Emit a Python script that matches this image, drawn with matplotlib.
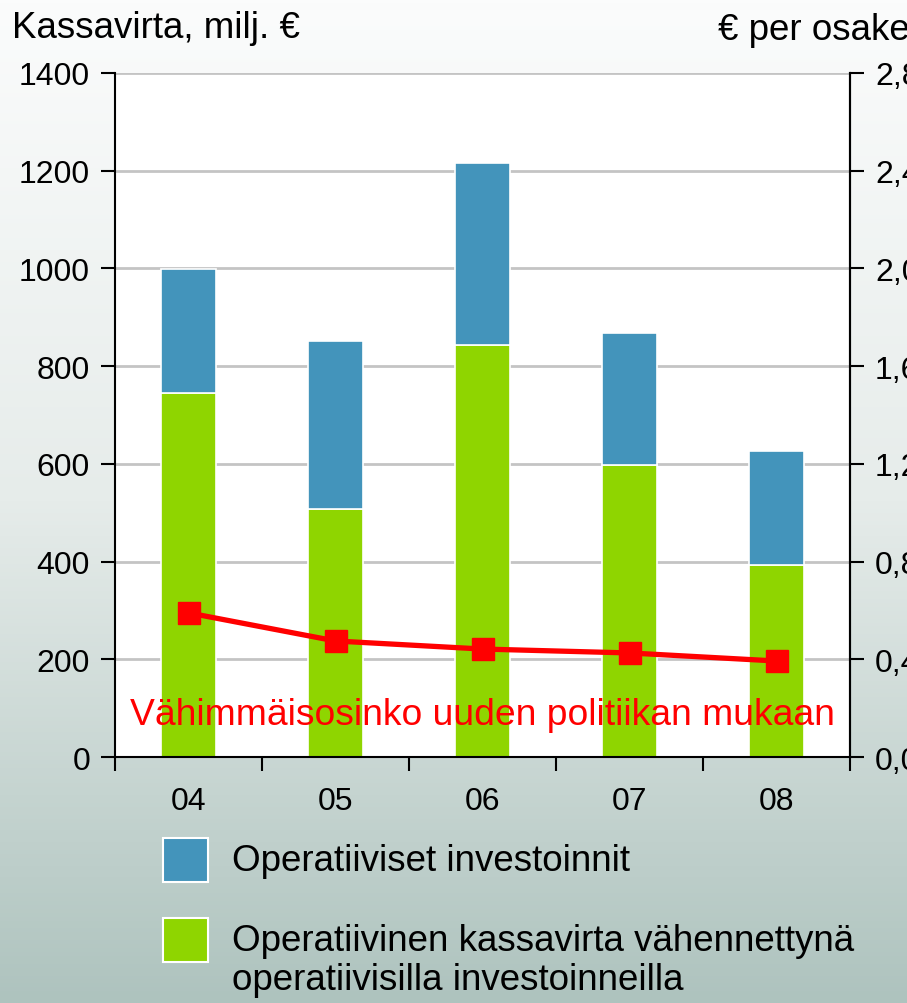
import matplotlib
matplotlib.use("Agg")
import matplotlib.pyplot as plt
import numpy as np
from matplotlib.colors import LinearSegmentedColormap
from matplotlib.patches import Rectangle

plt.rcParams["font.family"] = ["Liberation Sans", "DejaVu Sans"]

vuodet = ["04", "05", "06", "07", "08"]
kassavirta_netto = [745, 507, 843, 598, 393]
investoinnit = [253, 344, 373, 270, 233]
osinko = [0.59, 0.475, 0.442, 0.426, 0.393]

SININEN = "#4394bb"
VIHREA = "#8fd500"
PUNAINEN = "#ff0000"

fig = plt.figure(figsize=(9.07, 10.04), dpi=100)

# taustan liukuväri
bg = fig.add_axes([0, 0, 1, 1], zorder=-10)
cmap = LinearSegmentedColormap.from_list("tausta", ["#fbfcfc", "#e6ecea", "#aec3be"])
grad = np.linspace(0, 1, 256).reshape(-1, 1)
bg.imshow(grad, aspect="auto", cmap=cmap, extent=[0, 1, 0, 1], origin="upper")
bg.set_axis_off()

ax = fig.add_axes([0.1268, 0.245, 0.8104, 0.6813])
ax.set_facecolor("white")
x = np.arange(len(vuodet))

ax.bar(x, kassavirta_netto, width=0.38, color=VIHREA, edgecolor="white", linewidth=1.2, zorder=2)
ax.bar(x, investoinnit, width=0.38, bottom=kassavirta_netto, color=SININEN,
       edgecolor="white", linewidth=1.2, zorder=2)

ax.set_xlim(-0.5, 4.5)
ax.set_ylim(0, 1400)
ax.set_yticks(np.arange(0, 1401, 200))
ax.yaxis.grid(True, color="#c4c4c4", linewidth=2, zorder=0)
ax.set_axisbelow(True)

ax.set_xticks(np.arange(-0.5, 4.6, 1))
ax.set_xticklabels([])
ax.set_xticks(x, minor=True)
ax.set_xticklabels(vuodet, minor=True)
ax.tick_params(axis="x", which="major", direction="out", length=10, width=1.5)
ax.tick_params(axis="x", which="minor", length=0, pad=21, labelsize=23)
ax.tick_params(axis="y", direction="out", length=10, width=1.5, labelsize=23, pad=8)

for s in ["left", "bottom", "right"]:
    ax.spines[s].set_linewidth(1.5)
ax.spines["top"].set_visible(False)

ax2 = ax.twinx()
ax2.set_ylim(0, 2.8)
ax2.set_yticks(np.arange(0, 2.81, 0.4))
ax2.set_yticklabels([f"{v:.1f}".replace(".", ",") for v in np.arange(0, 2.81, 0.4)])
ax2.tick_params(axis="y", direction="out", length=10, width=1.5, labelsize=23, pad=8)
for s in ["left", "top", "bottom"]:
    ax2.spines[s].set_visible(False)
ax2.spines["right"].set_linewidth(1.5)

ax2.plot(x, osinko, color=PUNAINEN, linewidth=3.8, marker="s", markersize=16, zorder=5)

ax.text(2, 88, "Vähimmäisosinko uuden politiikan mukaan", color=PUNAINEN,
        fontsize=26.8, ha="center", va="center", zorder=6)

fig.text(12 / 907, 1 - 28 / 1004, "Kassavirta, milj. €", fontsize=26.5, va="center", ha="left")
fig.text(718 / 907, 1 - 30 / 1004, "€ per osake", fontsize=26.5, va="center", ha="left")

# selite
legend_items = [
    (SININEN, 861, 862, "Operatiiviset investoinnit"),
    (VIHREA, 941, 961, "Operatiivinen kassavirta vähennettynä\noperatiivisilla investoinneilla"),
]
for color, ypix, ytext, label in legend_items:
    fig.patches.append(Rectangle((163 / 907, 1 - (ypix + 22) / 1004), 45 / 907, 44 / 1004,
                                 transform=fig.transFigure, facecolor=color,
                                 edgecolor="white", linewidth=1.5))
    fig.text(232 / 907, 1 - ytext / 1004, label, fontsize=26.5, va="center",
             ha="left", linespacing=1.15)

fig.savefig("out.png", dpi=100)
